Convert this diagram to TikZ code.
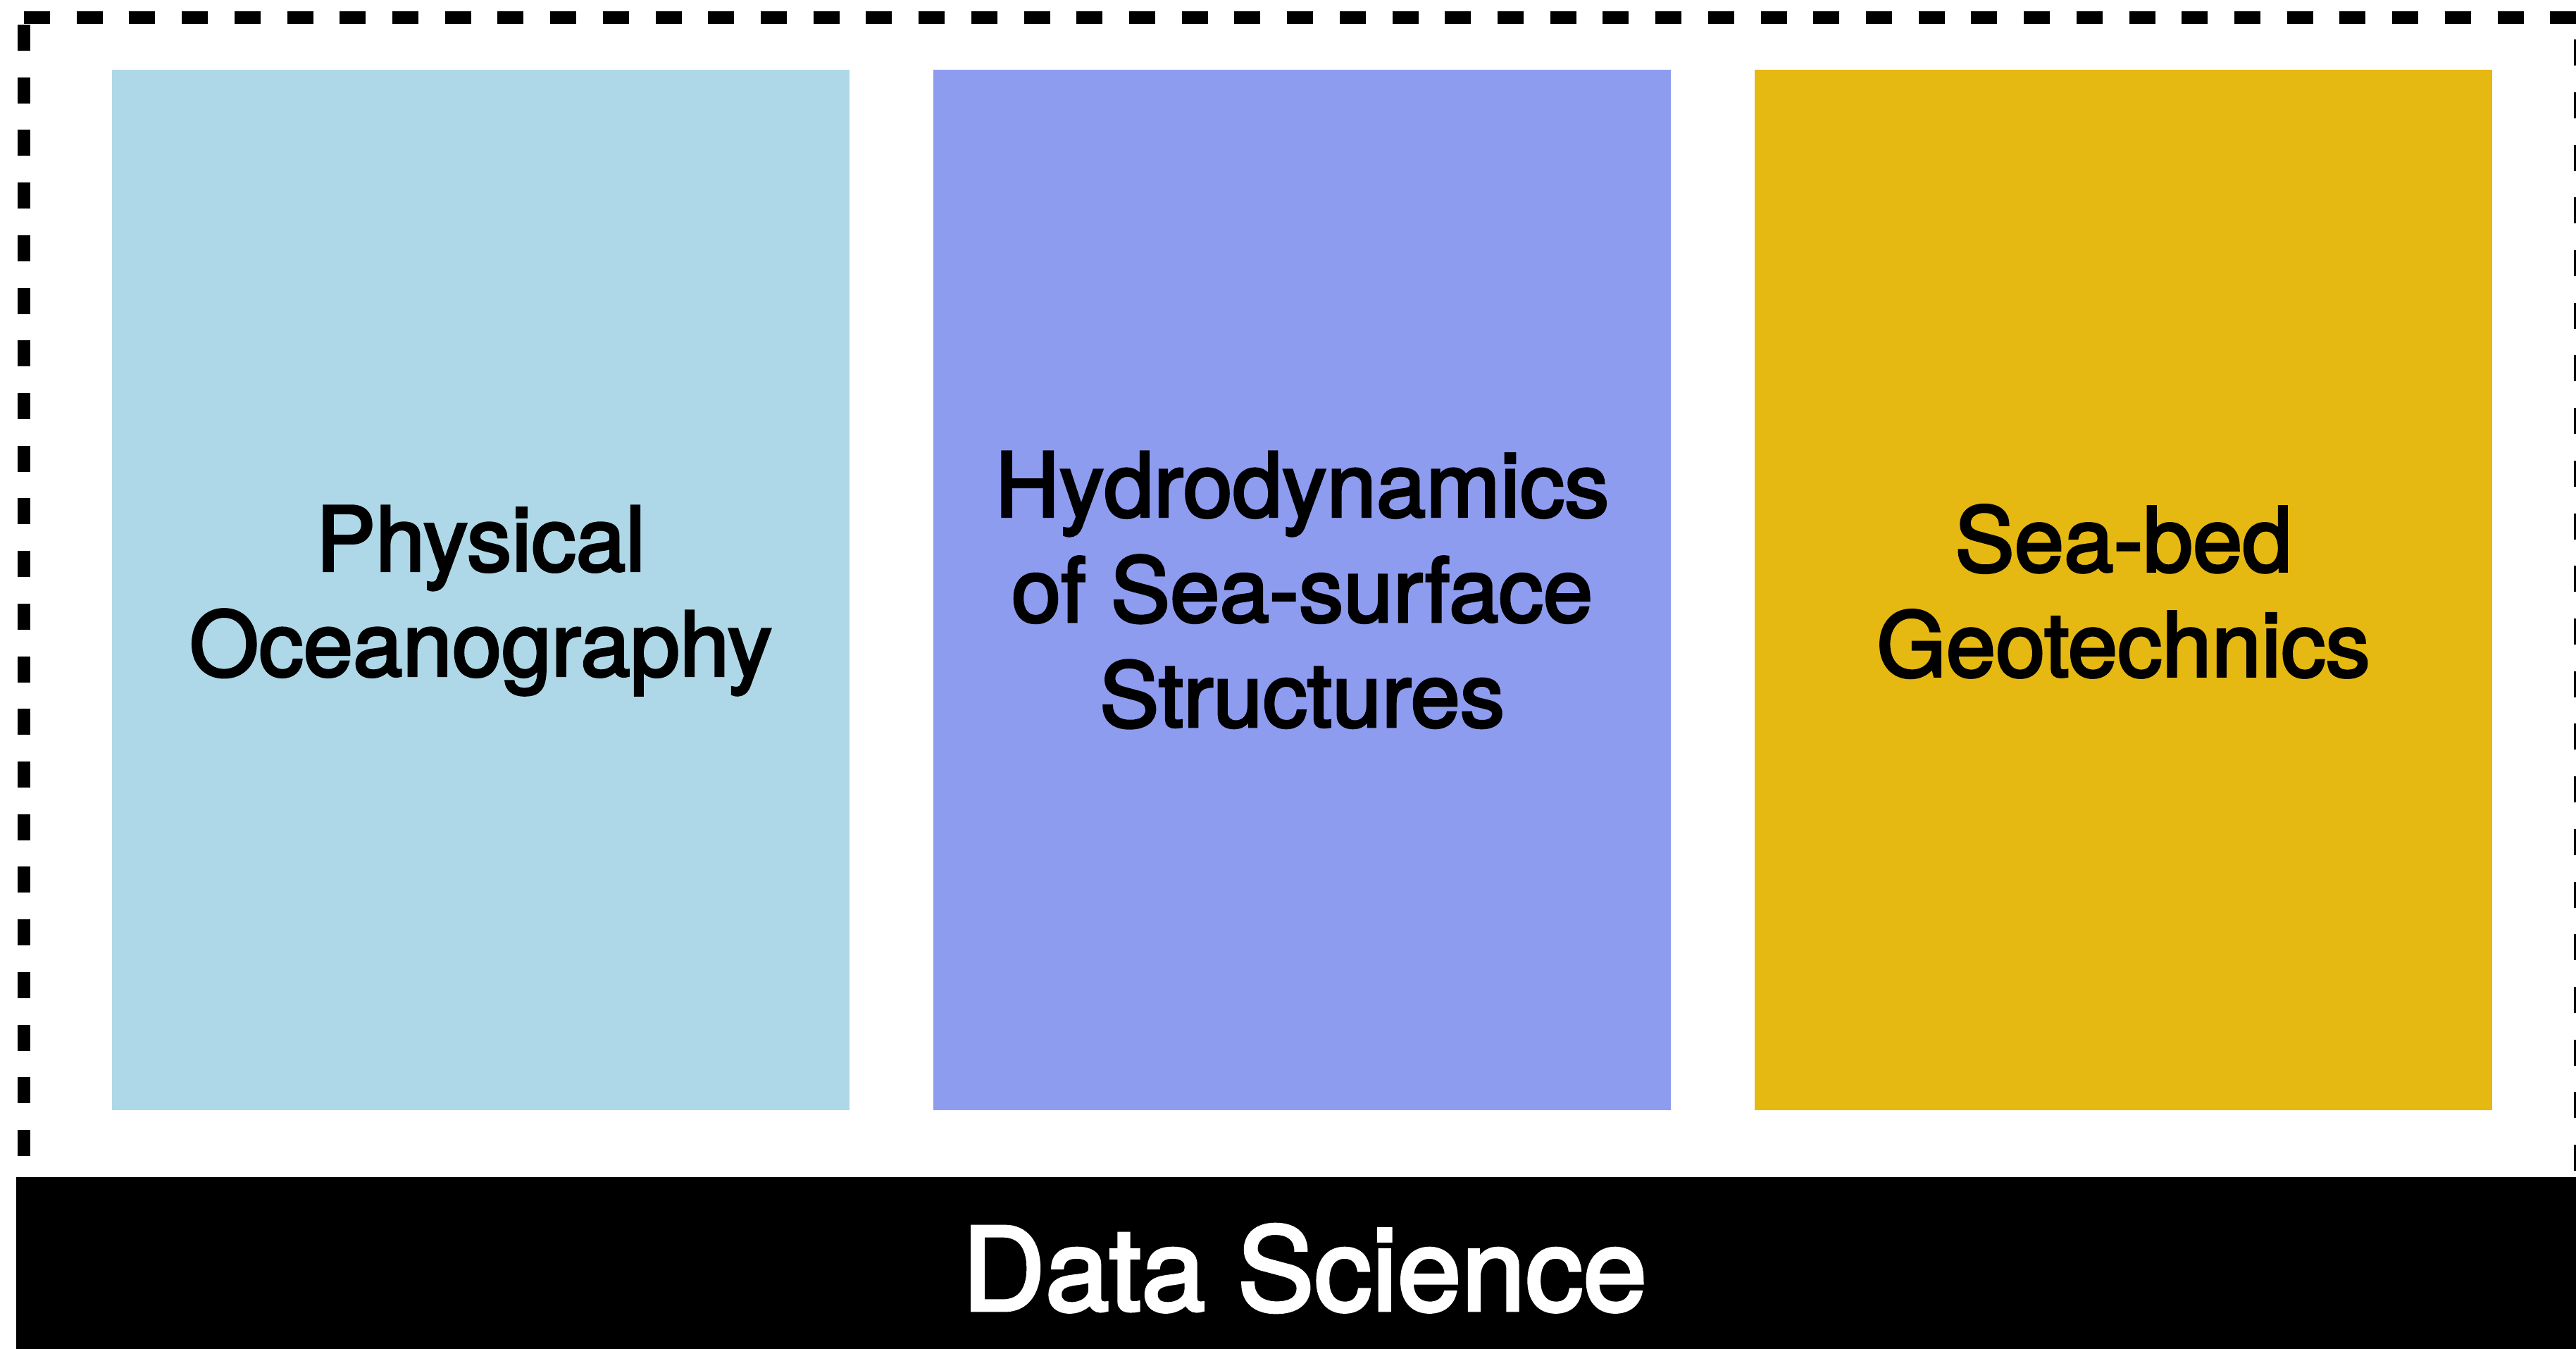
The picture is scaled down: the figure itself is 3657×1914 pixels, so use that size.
\documentclass[tikz,border=0pt]{standalone}
\usepackage{fontspec}
\setmainfont{TeX Gyre Heros}[FakeBold=2.8]
\usepackage{tikz}
\definecolor{oceanblue}{HTML}{AED8E7}
\definecolor{hydroblue}{HTML}{8E9CF0}
\definecolor{bedgold}{HTML}{E6B812}
\tikzset{
  areabox/.style={rectangle, inner sep=0pt, minimum width=10.47cm, minimum height=14.77cm},
  boxlab/.style={inner sep=0pt, align=center, text=black, font=\fontsize{36pt}{42.4pt}\selectfont},
  dashframe/.style={draw=black, line width=0.187cm, dash pattern=on 0.37cm off 0.3767cm},
  band/.style={rectangle, fill=black, inner sep=0pt, minimum width=36.56cm, minimum height=2.59cm,
    text=white, font=\fontsize{46.5pt}{54pt}\selectfont},
}

\begin{document}
\begin{tikzpicture}[x=0.01cm, y=-0.01cm]
  \useasboundingbox (0,0) rectangle (3657,1914);
  % dashed frame round the three fields
  \draw[dashframe] (34,25) -- (3663.7,25) -- (3663.7,1686) -- (34,1686) -- cycle;
  \node[areabox, fill=oceanblue] (phys) at (682.5,837.5) {};
  \node[areabox, fill=hydroblue] (hydro) at (1848.5,837.5) {};
  \node[areabox, fill=bedgold] (bed) at (3014.5,837.5) {};
  \node[boxlab] (physlab) at ([yshift=-0.15cm]phys.center) {Physical\\Oceanography};
  \node[boxlab] (hydrolab) at (hydro.center) {Hydrodynamics\\of Sea-surface\\Structures};
  \node[boxlab] (bedlab) at ([yshift=-0.02cm]bed.center) {Sea-bed\\Geotechnics};
  % base layer
  \node[band] (ds) at (1852,1800.5) {Data Science};
\end{tikzpicture}
\end{document}
